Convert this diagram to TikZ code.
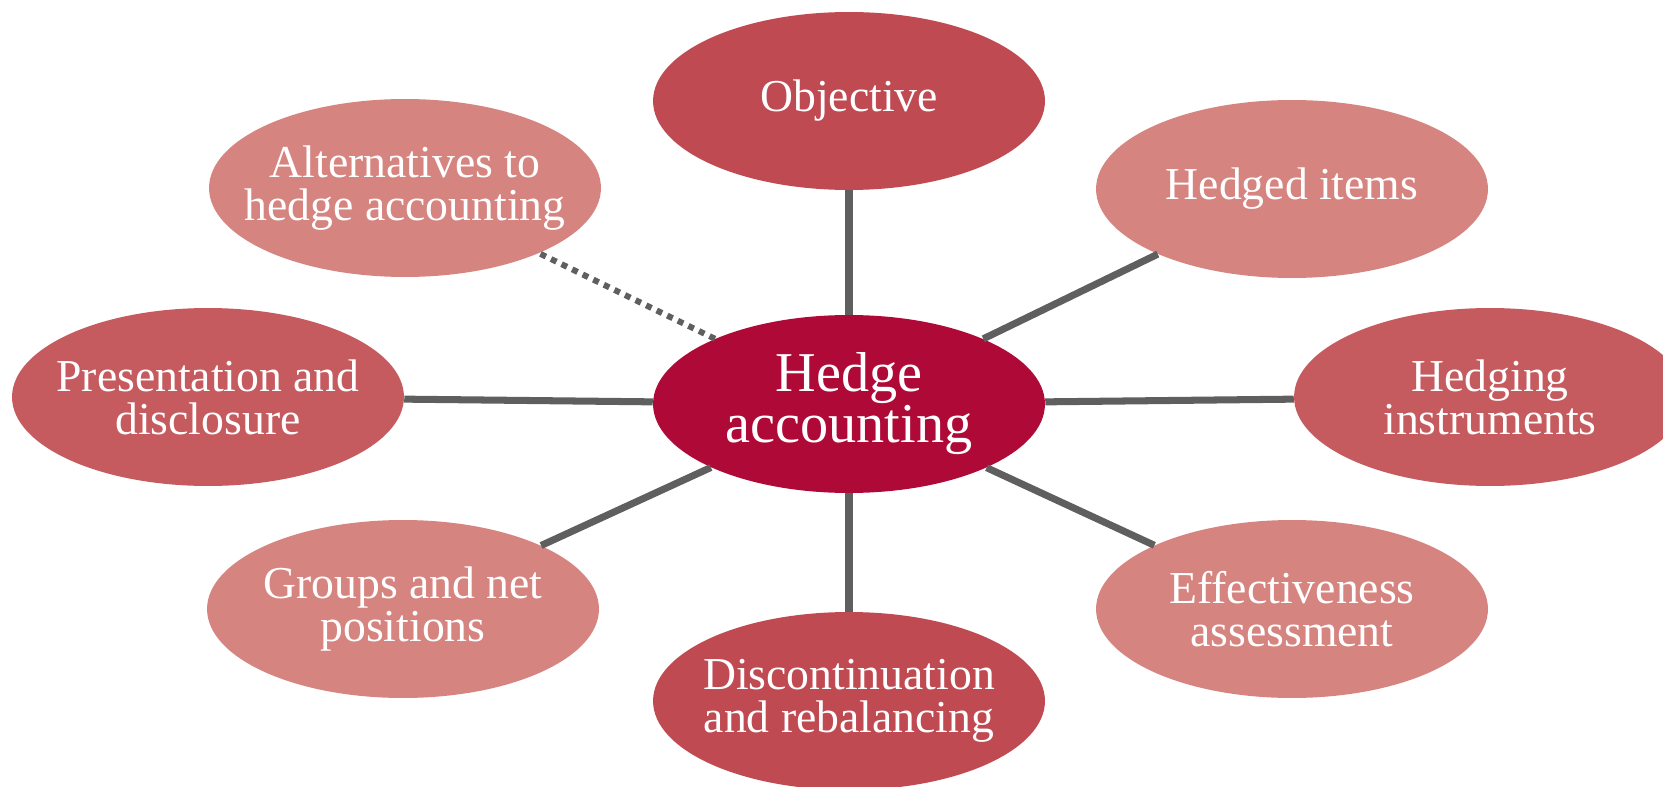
\documentclass[tikz,border=0pt]{standalone}
\usepackage{fontspec}
\setmainfont{Liberation Serif}
\usetikzlibrary{shapes.geometric}
\definecolor{hubred}{RGB}{175,10,55}
\definecolor{darkrose}{RGB}{192,74,82}
\definecolor{midrose}{RGB}{197,91,95}
\definecolor{lightrose}{RGB}{214,132,128}
\definecolor{linkgray}{RGB}{95,95,95}

\begin{document}
\begin{tikzpicture}[x=0.02cm,y=-0.02cm,
    topic/.style={ellipse,minimum width=7.84cm,minimum height=3.56cm,
      inner xsep=-0.7cm,inner ysep=-0.2cm,
      text=white,align=center,font=\fontsize{26}{24.5}\selectfont},
    link/.style={line width=4pt,draw=linkgray},
    altlink/.style={line width=3.4pt,draw=linkgray,dash pattern=on 0.12cm off 0.115cm}]
    \useasboundingbox (0,0) rectangle (1663,787);
    \clip (0,0) rectangle (1663,787);
    % topics round the hub
    \node [topic,fill=darkrose] (obj) at (849,101) {Objective};
    \node [topic,fill=lightrose] (items) at (1292,189) {Hedged items};
    \node [topic,fill=midrose] (instr) at (1490,397) {Hedging\\instruments};
    \node [topic,fill=lightrose] (effect) at (1292,609) {Effectiveness\\assessment};
    \node [topic,fill=darkrose] (discont) at (849,701) {Discontinuation\\and rebalancing};
    \node [topic,fill=lightrose] (groups) at (403,609) {Groups and net\\positions};
    \node [topic,fill=midrose] (pres) at (208,397) {Presentation and\\disclosure};
    \node [topic,fill=lightrose] (alt) at (405,188) {Alternatives to\\hedge accounting};
    \node [topic,fill=hubred,font=\fontsize{32}{27}\selectfont] (hub) at (849,404)
      {Hedge\\accounting};
    % connectors
    \draw [link] (hub) -- (obj);
    \draw [link] (hub) -- (items);
    \draw [link] (hub) -- (instr);
    \draw [link] (hub) -- (effect);
    \draw [link] (hub) -- (discont);
    \draw [link] (hub) -- (groups);
    \draw [link] (hub) -- (pres);
    \draw [altlink] (hub) -- (alt);
\end{tikzpicture}
\end{document}
